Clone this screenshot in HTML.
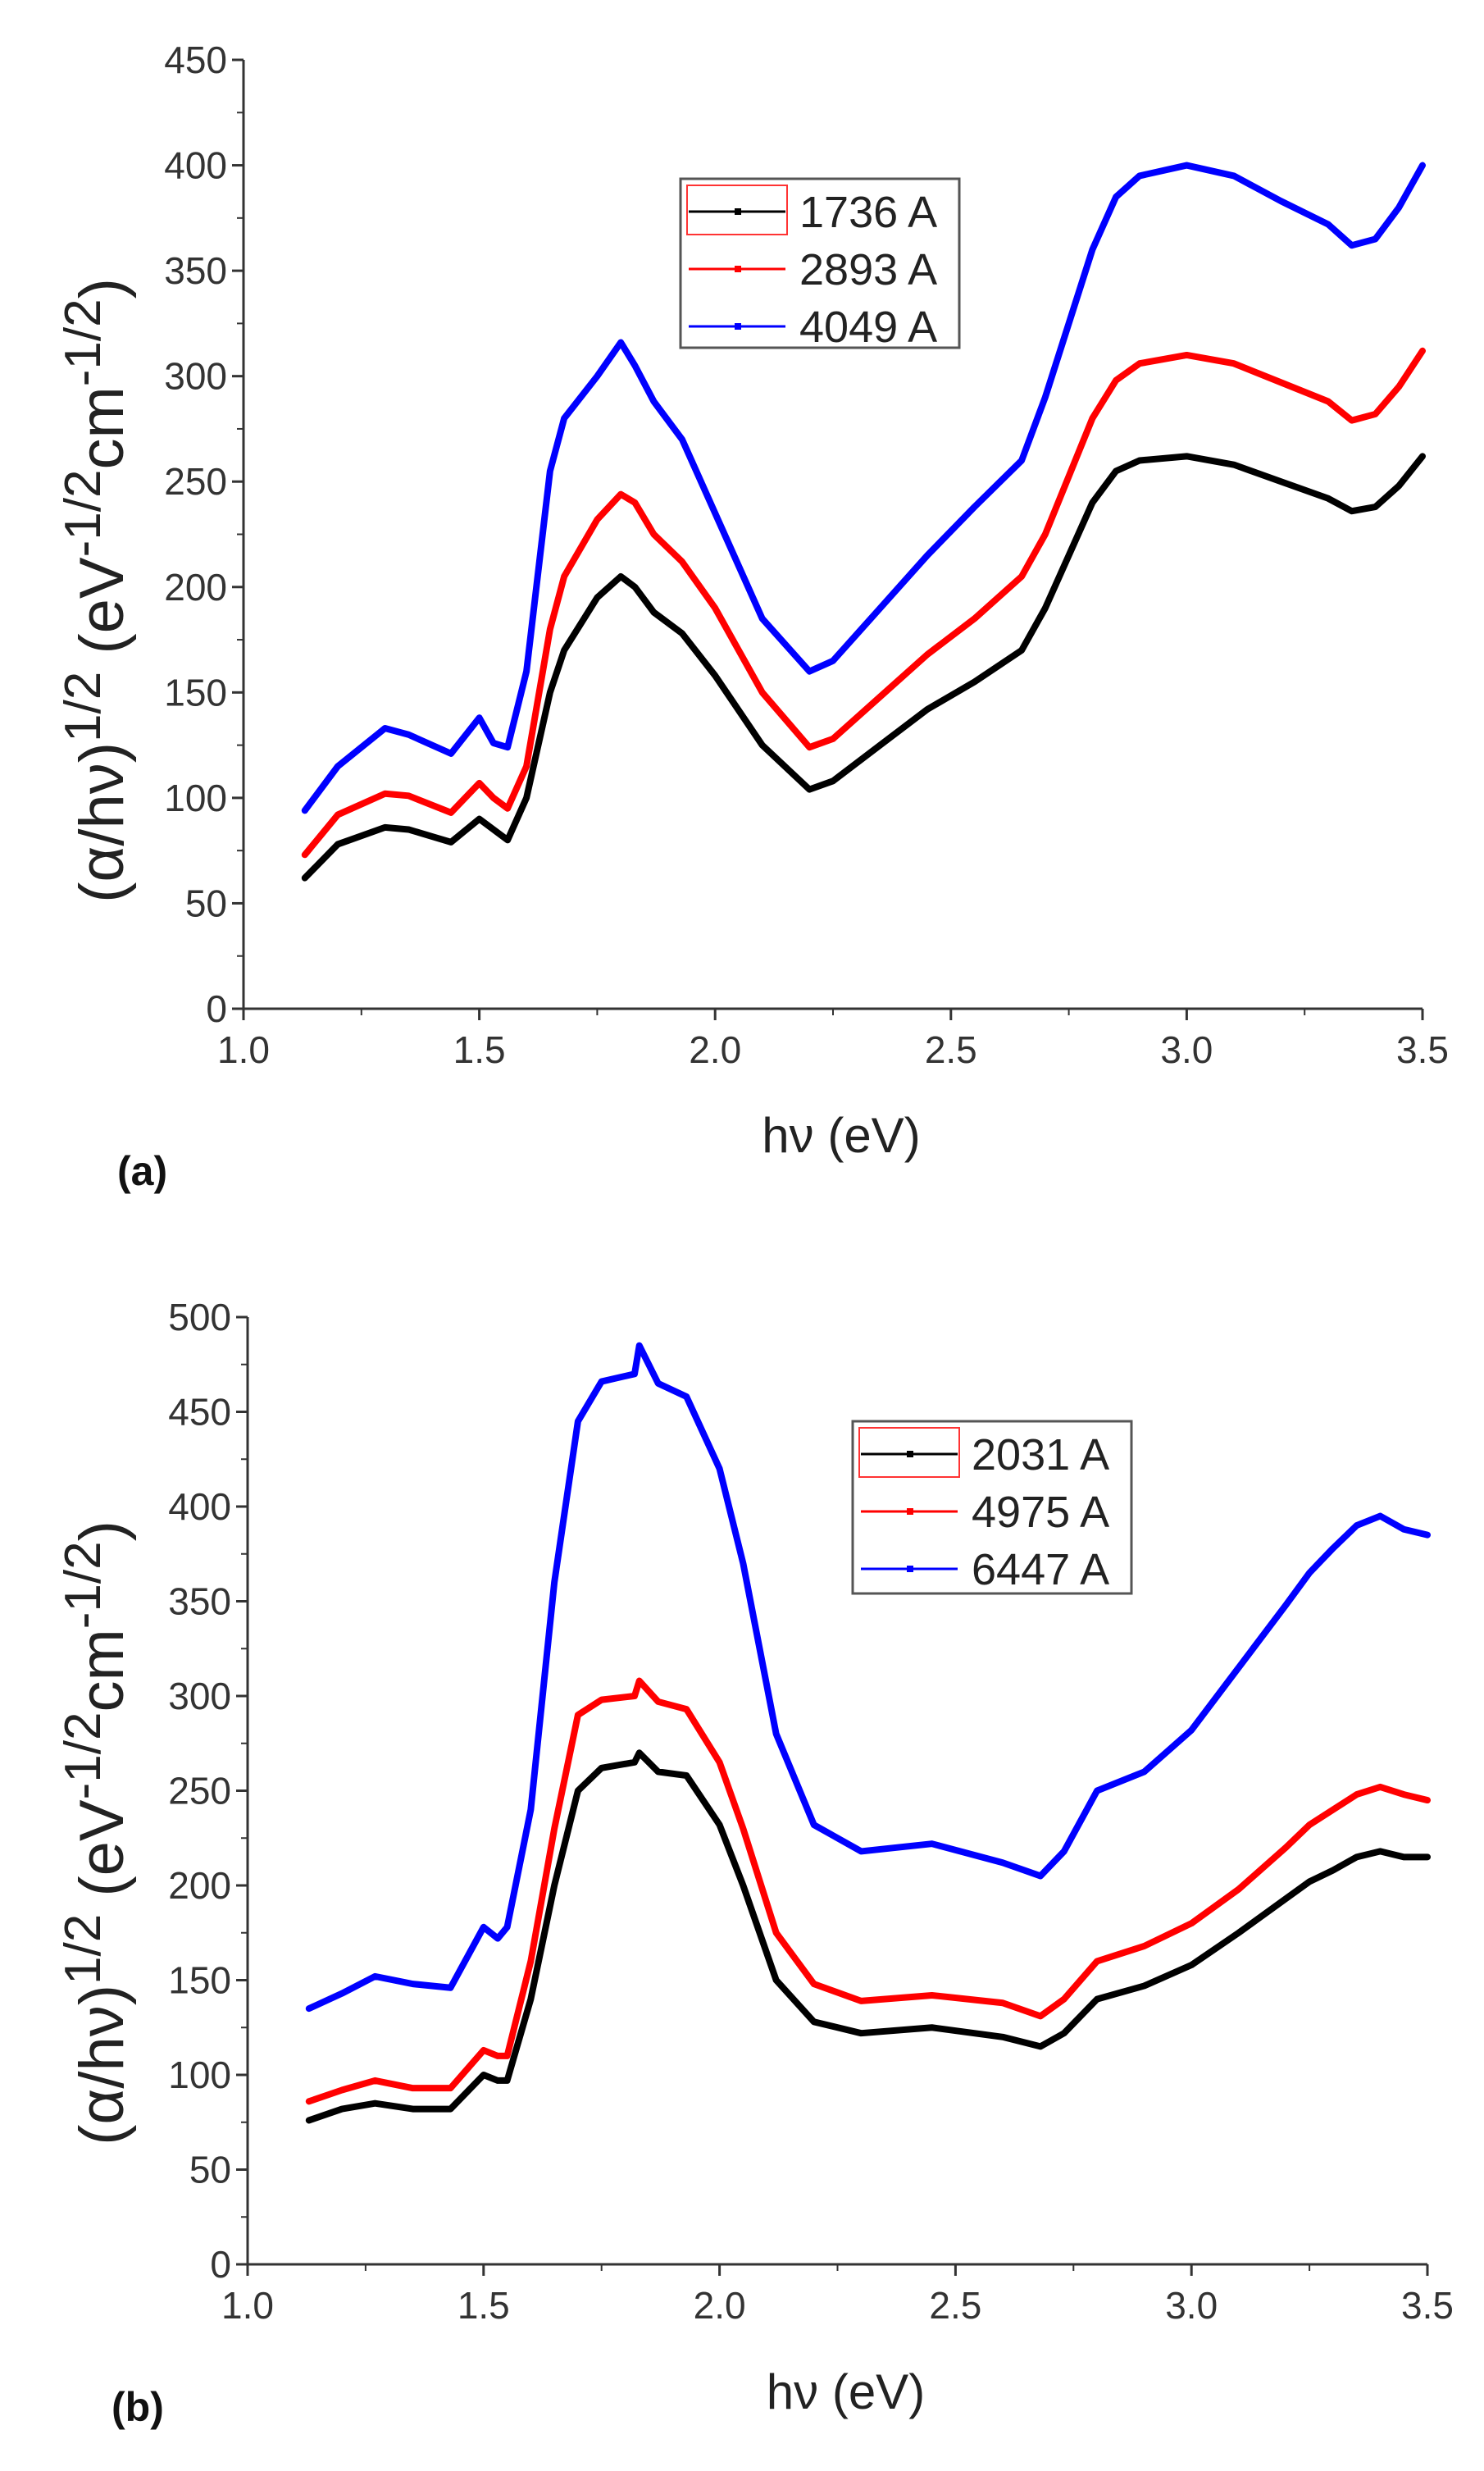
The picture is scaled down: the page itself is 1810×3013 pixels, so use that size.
<!DOCTYPE html>
<html><head><meta charset="utf-8"><style>
body{margin:0;background:#fff;}
svg{display:block;font-family:"Liberation Sans",sans-serif;}
</style></head><body>
<svg id="fig" width="1810" height="3013" viewBox="0 0 1810 3013"></svg>
<script>
const xsA=[1.13,1.2,1.3,1.35,1.44,1.5,1.53,1.56,1.6,1.65,1.68,1.75,1.8,1.83,1.87,1.93,2.0,2.1,2.2,2.25,2.35,2.45,2.55,2.65,2.7,2.8,2.85,2.9,3.0,3.1,3.2,3.3,3.35,3.4,3.45,3.5];
const a1736=[62,78,86,85,79,90,85,80,100,150,170,195,205,200,188,178,158,125,104,108,125,142,155,170,190,240,255,260,262,258,250,242,236,238,248,262];
const a2893=[73,92,102,101,93,107,100,95,115,180,205,232,244,240,225,212,190,150,124,128,148,168,185,205,225,280,298,306,310,306,297,288,279,282,295,312];
const a4049=[94,115,133,130,121,138,126,124,160,255,280,300,316,305,288,270,235,185,160,165,190,215,238,260,290,360,385,395,400,395,383,372,362,365,380,400];
const xsB=[1.13,1.2,1.27,1.35,1.43,1.5,1.53,1.55,1.6,1.65,1.7,1.75,1.82,1.83,1.87,1.93,2.0,2.05,2.12,2.2,2.3,2.45,2.6,2.68,2.73,2.8,2.9,3.0,3.1,3.2,3.25,3.3,3.35,3.4,3.45,3.5];
const b2031=[76,82,85,82,82,100,97,97,140,200,250,262,265,270,260,258,232,200,150,128,122,125,120,115,122,140,147,158,175,193,202,208,215,218,215,215];
const b4975=[86,92,97,93,93,113,110,110,160,230,290,298,300,308,297,293,265,230,175,148,139,142,138,131,140,160,168,180,198,220,232,240,248,252,248,245];
const b6447=[135,143,152,148,146,178,172,178,240,360,445,466,470,485,465,458,420,370,280,232,218,222,212,205,218,250,260,282,315,348,365,378,390,395,388,385];
const xTicks=["1.0","1.5","2.0","2.5","3.0","3.5"];
const yTicksA=[0,50,100,150,200,250,300,350,400,450];
const yTicksB=[0,50,100,150,200,250,300,350,400,450,500];

const NS="http://www.w3.org/2000/svg";
const svg=document.getElementById('fig');
function mk(tag,attrs,parent){const e=document.createElementNS(NS,tag);for(const k in attrs)e.setAttribute(k,attrs[k]);(parent||svg).appendChild(e);return e;}

function chart(cfg){
  const g=mk('g',{});
  
  
  const X=v=>cfg.left+(v-1.0)/2.5*(cfg.right-cfg.left);
  const Y=v=>cfg.y0-v/cfg.ymax*(cfg.y0-cfg.ytop);
  cfg.series.forEach(s=>{
    const p=mk('polyline',{points:s.ys.map((v,i)=>X(s.xs[i])+','+Y(v)).join(' '),fill:'none',stroke:s.color,'stroke-width':8,'stroke-linejoin':'round','stroke-linecap':'round'},g);
    
    
  });
  const ax=mk('path',{d:`M${cfg.left},${cfg.ytop} V${cfg.y0} H${cfg.right}`,fill:'none',stroke:'#333','stroke-width':3},g);
  
  
  xTicks.forEach((t,i)=>{
    const v=parseFloat(t);const x=X(v);
    mk('line',{x1:x,y1:cfg.y0,x2:x,y2:cfg.y0+14,stroke:'#333','stroke-width':3},g);
    if(i<5) mk('line',{x1:X(v+0.25),y1:cfg.y0,x2:X(v+0.25),y2:cfg.y0+8,stroke:'#333','stroke-width':2},g);
    const tx=mk('text',{x:x,y:cfg.y0+66,'font-size':46,'text-anchor':'middle',fill:'#333'},g);
    tx.textContent=t;
    
    
  });
  cfg.yt.forEach((v,i)=>{
    const y=Y(v);
    mk('line',{x1:cfg.left-14,y1:y,x2:cfg.left,y2:y,stroke:'#333','stroke-width':3},g);
    if(i<cfg.yt.length-1) mk('line',{x1:cfg.left-8,y1:Y(v+25),x2:cfg.left,y2:Y(v+25),stroke:'#333','stroke-width':2},g);
    const tx=mk('text',{x:cfg.left-20,y:y+16,'font-size':46,'text-anchor':'end',fill:'#333'},g);
    tx.textContent=v;
    
    
  });
  const xt=mk('text',{x:(cfg.left+cfg.right)/2+10,y:cfg.xtitleY,'font-size':60,'text-anchor':'middle',fill:'#222'},g);
  xt.textContent='hν (eV)';
  
  
  const yt=mk('text',{transform:`translate(${cfg.ytitleX},${cfg.ytitleY}) rotate(-90)`,'font-size':76,'text-anchor':'middle',fill:'#222'},g);
  yt.innerHTML='(α/hν)<tspan dy="-28" font-size="62">1/2</tspan><tspan dy="28"> (eV</tspan><tspan dy="-28" font-size="62">-1/2</tspan><tspan dy="28">cm</tspan><tspan dy="-28" font-size="62">-1/2</tspan><tspan dy="28">)</tspan>';
  
  
  const pl=mk('text',{x:cfg.panelX,y:cfg.panelY,'font-size':50,'font-weight':'bold',fill:'#111'},g);
  pl.textContent=cfg.panel;
  
  
  const L=cfg.legend;
  const lg=mk('g',{},g);
  
  
  mk('rect',{x:L.x,y:L.y,width:L.w,height:L.h,fill:'#fff',stroke:'#555','stroke-width':3},lg);
  mk('rect',{x:L.x+8,y:L.y+8,width:122,height:60,fill:'none',stroke:'#f33','stroke-width':2},lg);
  cfg.series.forEach((s,i)=>{
    const y=L.y+40+i*70;
    const e=mk('g',{},lg);
    
    
    mk('line',{x1:L.x+10,y1:y,x2:L.x+128,y2:y,stroke:s.color,'stroke-width':3},e);
    mk('rect',{x:L.x+66,y:y-4,width:8,height:8,fill:s.color},e);
    const t=mk('text',{x:L.x+145,y:y+19,'font-size':54,fill:'#222'},e);
    t.textContent=s.label;
  });
}
chart({name:'chart-a',left:297,right:1735,y0:1230,ytop:73,ymax:450,yt:yTicksA,xtitleY:1405,ytitleX:150,ytitleY:720,panel:'(a)',panelX:143,panelY:1445,
  legend:{x:830,y:218,w:340,h:206},
  series:[{xs:xsA,ys:a1736,color:'#000',label:'1736 A'},{xs:xsA,ys:a2893,color:'#f00',label:'2893 A'},{xs:xsA,ys:a4049,color:'#00f',label:'4049 A'}]});
chart({name:'chart-b',left:302,right:1741,y0:2761,ytop:1606,ymax:500,yt:yTicksB,xtitleY:2937,ytitleX:150,ytitleY:2235,panel:'(b)',panelX:136,panelY:2952,
  legend:{x:1040,y:1733,w:340,h:210},
  series:[{xs:xsB,ys:b2031,color:'#000',label:'2031 A'},{xs:xsB,ys:b4975,color:'#f00',label:'4975 A'},{xs:xsB,ys:b6447,color:'#00f',label:'6447 A'}]});
</script>
</body></html>
